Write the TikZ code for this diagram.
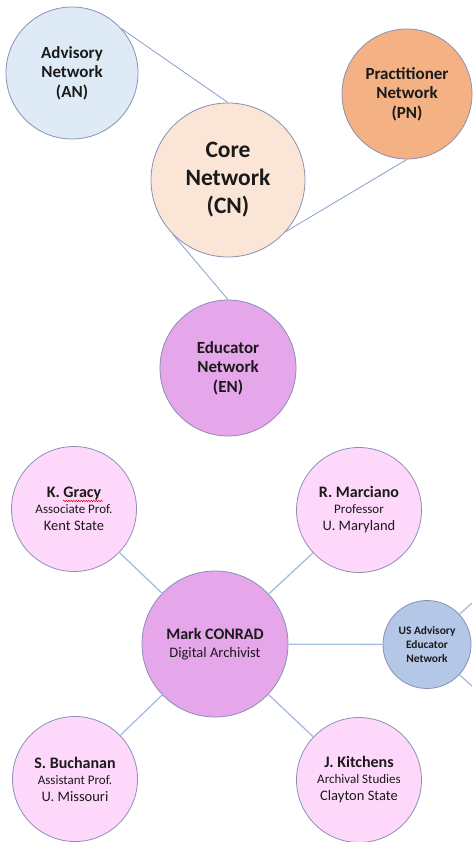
\documentclass[tikz,border=0pt]{standalone}
\usepackage{fontspec}
\setmainfont{Carlito}
\usetikzlibrary{calc,decorations.pathmorphing}

\definecolor{ringc}{HTML}{8890B5}
\definecolor{linkc}{HTML}{A4BDE2}
\definecolor{toplinkc}{HTML}{849FCC}
\definecolor{anfill}{HTML}{DEEBF7}
\definecolor{pnfill}{HTML}{F4B183}
\definecolor{cnfill}{HTML}{FBE5D6}
\definecolor{enfill}{HTML}{E6A6EA}
\definecolor{pfill}{HTML}{FED8FA}
\definecolor{usfill}{HTML}{B4C7E7}
\definecolor{txt}{HTML}{1A1A1A}

\newcommand{\namefont}{\bfseries\fontsize{16}{16}\selectfont}
\newcommand{\rolefont}{\fontsize{13}{13}\selectfont}
\newcommand{\instfont}{\fontsize{14.5}{14.5}\selectfont}

\begin{document}
\begin{tikzpicture}[x=1pt,y=-1pt,
  net/.style={circle,draw=ringc,line width=0.8pt,inner sep=0pt,align=center,text=txt},
  bignet/.style={net,font=\bfseries\fontsize{17}{19.5}\selectfont},
  person/.style={net,fill=pfill,minimum size=125pt,font=\fontsize{14.5}{14.5}\selectfont},
  toplink/.style={draw=toplinkc,line width=0.8pt},
  link/.style={draw=linkc,line width=1.3pt}]
\useasboundingbox (0,0) rectangle (472,842);

% upper group of networks
\node[bignet,fill=anfill,minimum size=132pt] (AN) at (72,73) {Advisory\\Network\\(AN)};
\node[bignet,fill=pnfill,minimum size=130pt] (PN) at (407,94) {Practitioner\\Network\\(PN)};
\node[net,fill=cnfill,minimum size=154pt,font=\bfseries\fontsize{23.5}{28}\selectfont] (CN) at (228,180) {Core\\Network\\(CN)};
\node[bignet,fill=enfill,minimum size=136pt] (EN) at (228,368) {Educator\\Network\\(EN)};

\draw[toplink] (AN.42) -- (CN.north);
\draw[toplink] (PN.south) -- (CN.-42);
\draw[toplink] (CN.224) -- (EN.north);

% lower group: educators around the archivist
\node[net,fill=enfill,minimum size=146pt,font=\fontsize{14.5}{18}\selectfont] (MC) at (215,644)
  {{\bfseries\fontsize{16}{18}\selectfont Mark CONRAD}\\Digital Archivist};
\node[person] (KG) at (74,509) {{\namefont K. Gracy}\\[1.5pt]{\rolefont Associate Prof.}\\[2.5pt]{\instfont Kent State}};
\node[person] (RM) at (359,510) {{\namefont R. Marciano}\\[1.5pt]{\rolefont Professor}\\[2.5pt]{\instfont U. Maryland}};
\node[person] (SB) at (75,779) {{\namefont S. Buchanan}\\[1.5pt]{\rolefont Assistant Prof.}\\[2.5pt]{\instfont U. Missouri}};
\node[person] (JK) at (359,780) {{\namefont J. Kitchens}\\[1.5pt]{\rolefont Archival Studies}\\[2.5pt]{\instfont Clayton State}};
\node[net,fill=usfill,minimum size=88pt,font=\bfseries\fontsize{11.4}{14}\selectfont] (US) at (427,644.5)
  {US Advisory\\Educator\\Network};

\coordinate (USup) at (472,603);
\coordinate (USdn) at (472,686);

\draw[link] (KG) -- (MC);
\draw[link] (RM) -- (MC);
\draw[link] (SB) -- (MC);
\draw[link] (JK) -- (MC);
\draw[link] (MC) -- (US);
\draw[link] (US.43) -- (USup);
\draw[link] (US.-43) -- (USdn);

% spell-check squiggle under the surname
\draw[red!85!black,line width=0.5pt,decorate,decoration={snake,amplitude=0.7pt,segment length=2.5pt}]
  ($(KG.center)+(-11,-8)$) -- ($(KG.center)+(29,-8)$);
\end{tikzpicture}
\end{document}
